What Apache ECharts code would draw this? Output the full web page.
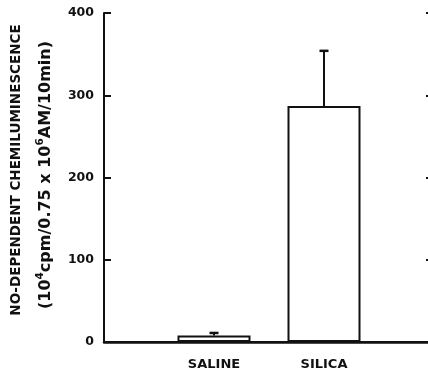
<!DOCTYPE html>
<html>
<head>
<meta charset="utf-8">
<script src="https://cdn.jsdelivr.net/npm/echarts@6/dist/echarts.min.js"></script>
<style>
  html, body { margin: 0; padding: 0; background: #fff; }
  #chart { width: 428px; height: 375px; }
</style>
</head>
<body>
<div id="chart"></div>
<script>
// Treatment groups and their NO-dependent chemiluminescence (mean, upper SEM)
const categories = ['SALINE', 'SILICA'];
const means = [8, 287];
const errUpper = [3, 67];
const yTicks = [0, 100, 200, 300, 400];

const FONT = '"DejaVu Sans", "Liberation Sans", Arial, sans-serif';
const INK = '#111';

// Pad the category axis with empty slots at both ends so the bars sit inside the frame
const xSlots = [''].concat(categories, ['']);
const barData = [null].concat(means, [null]);
const errData = categories.map((c, i) => [i + 1, means[i], means[i] + errUpper[i]]);

const chart = echarts.init(document.getElementById('chart'), null, { renderer: 'canvas' });

chart.setOption({
  animation: false,
  backgroundColor: '#fff',
  grid: { left: 104, right: -6, top: 13, bottom: 33, outerBoundsMode: 'none', containLabel: false },
  xAxis: [
    {
      type: 'category',
      data: xSlots,
      boundaryGap: false,
      axisLine: { lineStyle: { color: INK, width: 2 } },
      axisTick: { show: false },
      axisLabel: { color: INK, fontFamily: FONT, fontWeight: 'bold', fontSize: 13, margin: 16 }
    },
    {
      type: 'category',
      position: 'top',
      data: xSlots,
      boundaryGap: false,
      axisLine: { lineStyle: { color: INK, width: 2.5 } },
      axisTick: { show: false },
      axisLabel: { show: false }
    }
  ],
  yAxis: [
    {
      type: 'value',
      min: yTicks[0],
      max: yTicks[yTicks.length - 1],
      interval: yTicks[1] - yTicks[0],
      axisLine: { show: true, lineStyle: { color: INK, width: 2 } },
      axisTick: { show: true, inside: true, length: 7, lineStyle: { color: INK, width: 2 } },
      axisLabel: { color: INK, fontFamily: FONT, fontWeight: 'bold', fontSize: 12.5, margin: 10 },
      splitLine: { show: false }
    },
    {
      type: 'value',
      position: 'right',
      min: yTicks[0],
      max: yTicks[yTicks.length - 1],
      interval: yTicks[1] - yTicks[0],
      axisLine: { show: true, lineStyle: { color: INK, width: 2 } },
      axisTick: { show: true, inside: true, length: 8, lineStyle: { color: INK, width: 2 } },
      axisLabel: { show: false },
      splitLine: { show: false }
    }
  ],
  series: [
    {
      type: 'bar',
      data: barData,
      barWidth: 73,
      itemStyle: { color: '#fff', borderColor: INK, borderWidth: 2 },
      z: 2
    },
    {
      // upper error bars with a short cap
      type: 'custom',
      data: errData,
      z: 3,
      renderItem: function (params, api) {
        const x = api.value(0);
        const base = api.coord([x, api.value(1)]);
        const top = api.coord([x, api.value(2)]);
        const half = 4.5;
        return {
          type: 'group',
          children: [
            { type: 'line', shape: { x1: base[0], y1: base[1], x2: top[0], y2: top[1] },
              style: { stroke: INK, lineWidth: 2 } },
            { type: 'line', shape: { x1: top[0] - half, y1: top[1], x2: top[0] + half, y2: top[1] },
              style: { stroke: INK, lineWidth: 2.5 } }
          ]
        };
      }
    }
  ],
  graphic: [
    {
      type: 'text',
      x: 16, y: 170,
      rotation: Math.PI / 2,
      style: {
        text: 'NO-DEPENDENT CHEMILUMINESCENCE',
        fontFamily: FONT, fontWeight: 'bold', fontSize: 13.5,
        fill: INK, align: 'center', verticalAlign: 'middle'
      }
    },
    {
      type: 'text',
      x: 46, y: 175,
      rotation: Math.PI / 2,
      style: {
        text: '(10{sup|4}cpm/0.75 x 10{sup|6}AM/10min)',
        fontFamily: FONT, fontWeight: 'bold', fontSize: 16,
        fill: INK, align: 'center', verticalAlign: 'middle',
        rich: {
          sup: { fontFamily: FONT, fontWeight: 'bold', fontSize: 10.5, fill: INK,
                 verticalAlign: 'bottom', padding: [0, 0, 12, 0] }
        }
      }
    }
  ]
});
</script>
</body>
</html>
